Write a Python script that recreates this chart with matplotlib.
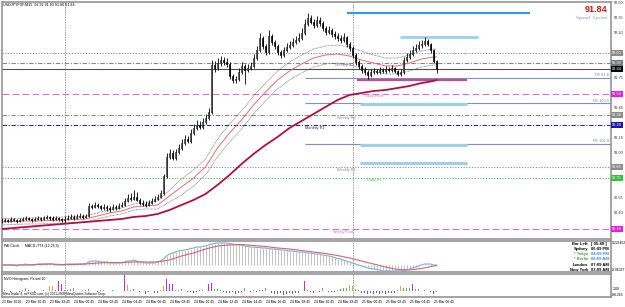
import matplotlib
matplotlib.use("Agg")
import matplotlib.pyplot as plt
import matplotlib.transforms as mtransforms

plt.rcParams['font.family'] = ['Liberation Sans', 'DejaVu Sans']

""" Data (USDJPY M15, bar 0 = 23 Mar 18:45) """
first_open = 90.31
closes = [90.32, 90.33, 90.32, 90.34, 90.33, 90.32, 90.33, 90.34, 90.35, 90.34,
          90.33, 90.34, 90.35, 90.34, 90.35, 90.36, 90.35, 90.34, 90.35, 90.34,
          90.33, 90.34, 90.35, 90.36, 90.35, 90.36, 90.37, 90.36, 90.37, 90.47,
          90.46, 90.48, 90.47, 90.45, 90.46, 90.45, 90.44, 90.46, 90.45, 90.47,
          90.48, 90.52, 90.55, 90.54, 90.56, 90.53, 90.50, 90.49, 90.48, 90.50,
          90.52, 90.54, 90.56, 90.60, 90.77, 90.96, 91.00, 90.95, 91.01, 91.05,
          91.10, 91.14, 91.12, 91.20, 91.25, 91.28, 91.26, 91.31, 91.35, 91.41,
          91.88, 91.85, 91.90, 91.93, 91.91, 91.89, 91.77, 91.73, 91.74, 91.81,
          91.87, 91.83, 91.85, 91.87, 91.95, 92.03, 92.15, 92.07, 92.01, 92.17,
          92.11, 92.07, 92.01, 91.98, 92.03, 92.06, 92.08, 92.11, 92.13, 92.15,
          92.20, 92.29, 92.35, 92.31, 92.28, 92.33, 92.30, 92.25, 92.21, 92.23,
          92.19, 92.17, 92.15, 92.13, 92.16, 92.09, 92.05, 91.98, 91.91, 91.87,
          91.83, 91.81, 91.78, 91.81, 91.82, 91.81, 91.83, 91.82, 91.84, 91.83,
          91.85, 91.82, 91.79, 91.81, 91.93, 91.96, 91.99, 92.03, 92.05, 92.08,
          92.09, 92.12, 92.09, 92.03, 91.92, 91.84]
highs = [90.35, 90.35, 90.34, 90.36, 90.35, 90.34, 90.35, 90.36, 90.37, 90.36,
         90.35, 90.36, 90.37, 90.36, 90.37, 90.38, 90.37, 90.37, 90.37, 90.36,
         90.35, 90.37, 90.38, 90.39, 90.38, 90.39, 90.40, 90.39, 90.39, 90.50,
         90.49, 90.51, 90.50, 90.48, 90.49, 90.48, 90.47, 90.49, 90.48, 90.50,
         90.51, 90.55, 90.59, 90.60, 90.63, 90.61, 90.55, 90.53, 90.52, 90.53,
         90.55, 90.57, 90.59, 90.63, 90.79, 91.00, 91.04, 91.03, 91.04, 91.09,
         91.14, 91.18, 91.17, 91.24, 91.29, 91.33, 91.32, 91.35, 91.39, 91.45,
         91.93, 91.92, 91.95, 91.97, 91.96, 91.95, 91.91, 91.79, 91.77, 91.85,
         91.91, 91.89, 91.89, 91.91, 91.99, 92.07, 92.20, 92.17, 92.09, 92.23,
         92.19, 92.13, 92.09, 92.03, 92.06, 92.10, 92.12, 92.15, 92.17, 92.20,
         92.25, 92.34, 92.40, 92.38, 92.34, 92.37, 92.36, 92.32, 92.27, 92.27,
         92.25, 92.22, 92.20, 92.18, 92.20, 92.17, 92.11, 92.07, 92.00, 91.93,
         91.89, 91.86, 91.83, 91.84, 91.85, 91.84, 91.86, 91.85, 91.87, 91.86,
         91.88, 91.86, 91.83, 91.84, 91.96, 92.00, 92.03, 92.07, 92.09, 92.12,
         92.13, 92.16, 92.14, 92.10, 92.04, 91.93]
lows = [90.30, 90.31, 90.31, 90.31, 90.32, 90.30, 90.31, 90.32, 90.33, 90.33,
        90.31, 90.32, 90.33, 90.32, 90.33, 90.34, 90.33, 90.32, 90.33, 90.32,
        90.31, 90.31, 90.33, 90.34, 90.33, 90.34, 90.35, 90.34, 90.35, 90.36,
        90.44, 90.45, 90.45, 90.43, 90.43, 90.42, 90.41, 90.43, 90.43, 90.44,
        90.46, 90.47, 90.51, 90.52, 90.53, 90.52, 90.48, 90.47, 90.46, 90.47,
        90.49, 90.51, 90.53, 90.55, 90.58, 90.75, 90.94, 90.93, 90.93, 90.99,
        91.03, 91.08, 91.10, 91.10, 91.18, 91.23, 91.24, 91.24, 91.29, 91.33,
        91.39, 91.81, 91.83, 91.87, 91.88, 91.86, 91.74, 91.70, 91.70, 91.72,
        91.79, 91.69, 91.81, 91.83, 91.85, 91.93, 92.01, 92.04, 91.98, 91.99,
        92.08, 92.04, 91.98, 91.95, 91.96, 92.01, 92.04, 92.06, 92.09, 92.11,
        92.13, 92.18, 92.27, 92.29, 92.25, 92.26, 92.27, 92.22, 92.18, 92.19,
        92.16, 92.14, 92.12, 92.10, 92.11, 92.06, 92.02, 91.95, 91.88, 91.84,
        91.80, 91.78, 91.74, 91.76, 91.79, 91.79, 91.79, 91.80, 91.80, 91.81,
        91.81, 91.80, 91.77, 91.77, 91.79, 91.91, 91.94, 91.97, 92.01, 92.03,
        92.05, 92.07, 92.07, 92.00, 91.90, 91.80]
opens = [first_open] + closes[:-1]
bars = list(range(len(closes)))

# moving averages, read once per hour (plus last bar)
ma_bars = list(range(0, 145, 4)) + [145]
ema_mid = [90.31, 90.315, 90.32, 90.32, 90.325, 90.33, 90.335, 90.34, 90.37, 90.40,
           90.42, 90.46, 90.47, 90.48, 90.57, 90.66, 90.75, 90.86, 91.05, 91.20,
           91.33, 91.48, 91.61, 91.73, 91.82, 91.89, 91.95, 91.98, 91.99, 91.97,
           91.93, 91.90, 91.87, 91.87, 91.90, 91.94, 91.96, 91.96]
ema_high = [90.34, 90.345, 90.35, 90.35, 90.355, 90.36, 90.365, 90.37, 90.40, 90.43,
            90.45, 90.49, 90.50, 90.52, 90.63, 90.74, 90.83, 90.94, 91.14, 91.29,
            91.42, 91.57, 91.70, 91.82, 91.91, 91.98, 92.04, 92.07, 92.08, 92.06,
            92.02, 91.98, 91.95, 91.95, 91.98, 92.02, 92.04, 92.04]
ema_low = [90.28, 90.285, 90.29, 90.29, 90.295, 90.30, 90.305, 90.31, 90.34, 90.37,
           90.39, 90.43, 90.44, 90.44, 90.51, 90.58, 90.67, 90.78, 90.96, 91.11,
           91.24, 91.39, 91.52, 91.64, 91.73, 91.80, 91.86, 91.89, 91.90, 91.88,
           91.85, 91.82, 91.79, 91.79, 91.82, 91.86, 91.88, 91.88]
sma_slow = [90.24, 90.25, 90.26, 90.27, 90.28, 90.29, 90.30, 90.31, 90.32, 90.33,
            90.34, 90.36, 90.37, 90.39, 90.43, 90.48, 90.53, 90.59, 90.68, 90.78,
            90.89, 90.99, 91.08, 91.16, 91.25, 91.32, 91.39, 91.46, 91.53, 91.58,
            91.60, 91.62, 91.63, 91.65, 91.67, 91.70, 91.72, 91.73]

# pivot levels
pivot_levels = [92.00, 91.90, 91.59, 91.38, 91.28, 90.86, 90.75, 90.24]
pivot_labels = ["", "Weekly R3", "Daily Pivot", "Weekly R2", "Monthly R1",
                "Weekly R1", "Daily R1", "WeeklyPivot"]
fe_levels = [91.75, 91.50, 91.09]
fe_labels = ["FE 61.8", "FE 100.0", "FE 161.8"]
zone_levels = [92.40, 92.16, 91.73, 91.49, 91.08, 90.90]
bid = 91.84

price_ticks = [92.50, 92.35, 92.20, 92.05, 91.90, 91.75, 91.60, 91.45,
               91.30, 91.15, 91.00, 90.85, 90.70, 90.55, 90.40, 90.25]

# MACD
macd_main = [0.00, 0.00, 0.00, 0.00, 0.00, -0.01, 0.00, 0.00, 0.01, 0.00,
             0.00, 0.00, 0.01, 0.01, 0.01, 0.01, 0.01, 0.01, 0.00, 0.00,
             0.00, 0.00, 0.01, 0.01, 0.01, 0.01, 0.01, 0.01, 0.01, 0.03,
             0.04, 0.04, 0.04, 0.03, 0.03, 0.03, 0.02, 0.02, 0.02, 0.02,
             0.02, 0.03, 0.04, 0.04, 0.05, 0.04, 0.03, 0.03, 0.02, 0.02,
             0.02, 0.02, 0.03, 0.04, 0.06, 0.09, 0.11, 0.12, 0.13, 0.14,
             0.145, 0.15, 0.155, 0.165, 0.17, 0.18, 0.18, 0.185, 0.19, 0.20,
             0.21, 0.215, 0.22, 0.22, 0.22, 0.22, 0.215, 0.21, 0.205, 0.20,
             0.20, 0.19, 0.185, 0.18, 0.18, 0.175, 0.175, 0.17, 0.17, 0.165,
             0.16, 0.16, 0.155, 0.15, 0.15, 0.145, 0.14, 0.14, 0.135, 0.13,
             0.13, 0.125, 0.12, 0.12, 0.115, 0.11, 0.11, 0.10, 0.095, 0.09,
             0.085, 0.075, 0.065, 0.06, 0.05, 0.04, 0.03, 0.02, 0.01, 0.00,
             -0.01, -0.02, -0.03, -0.035, -0.04, -0.045, -0.05, -0.06, -0.06, -0.06,
             -0.06, -0.06, -0.06, -0.06, -0.055, -0.05, -0.04, -0.03, -0.02, -0.01,
             0.00, 0.01, 0.01, 0.01, 0.00, 0.00]
macd_signal = [0.00, 0.00, 0.00, 0.005, 0.01, 0.005, 0.005, 0.01, 0.02, 0.025,
               0.025, 0.03, 0.03, 0.03, 0.05, 0.09, 0.12, 0.16, 0.19, 0.20,
               0.205, 0.195, 0.185, 0.17, 0.16, 0.145, 0.13, 0.115, 0.095, 0.07,
               0.04, 0.01, -0.02, -0.045, -0.05, -0.035, -0.01, -0.005]

# NVO histogram
nvo = [30, 15, 9, -15, 12, 6, -12, 18, 51, 15,
       9, -9, 12, 6, 15, 9, 90, 90, 15, 171,
       135, 24, 15, 36, 51, 12, 9, 18, 15, 45,
       9, 12, -9, 15, 18, 9, 6, 15, 9, 12,
       12, 291, 105, 18, 36, 9, -15, 6, -51, -15,
       9, -24, -33, 15, 90, 210, 129, 126, 15, 24,
       36, 9, -18, -15, -24, -12, 18, 24, 12, 135,
       144, 36, 45, 24, -15, -30, -36, -18, -42, -24,
       -15, 51, 12, -18, 15, -15, 24, 15, 66, 12,
       -36, -45, -54, -36, -60, -45, -30, -54, -36, -24,
       12, 186, 15, -15, -24, 9, -18, 66, 12, -12,
       -18, -15, 30, 42, 54, 66, 102, 90, 36, 18,
       -30, -36, -45, -30, -42, -36, -48, -36, -42, -30,
       -36, -24, 15, 90, 66, 66, 54, 126, 48, 36,
       12, 24, 9, -18, -45, -15]

day_starts = [21, 117]
time_labels = ["23 Mar 2010", "23 Mar 20:45", "23 Mar 22:45", "24 Mar 00:45",
               "24 Mar 02:45", "24 Mar 04:45", "24 Mar 06:45", "24 Mar 08:45",
               "24 Mar 10:45", "24 Mar 12:45", "24 Mar 14:45", "24 Mar 16:45",
               "24 Mar 18:45", "24 Mar 20:45", "24 Mar 22:45", "25 Mar 00:45",
               "25 Mar 02:45", "25 Mar 04:45", "25 Mar 06:45"]
clock_rows = [("Bar Left", "[ 05:40 ]"), ("Sydney", "06:09 PM"),
              ("* Tokyo", "04:09 PM"), ("* Berlin", "08:09 AM"),
              ("London", "07:09 AM"), ("New York", "03:09 AM")]

""" Layout """
W, H = 625, 307


def frame(top, bottom):
    return [2 / W, 1 - bottom / H, 609 / W, (bottom - top) / H]


def px(x):
    # pixel column -> bar coordinate
    return (x - 1.5) / 3


fig = plt.figure(figsize=(6.25, 3.07), dpi=100, facecolor="white")
ax = fig.add_axes(frame(2, 239))
ax_macd = fig.add_axes(frame(241, 272))
ax_nvo = fig.add_axes(frame(274, 297))

for a in (ax, ax_macd, ax_nvo):
    a.set_xlim(1 / 6, 1 / 6 + 609 / 3)
    a.set_xticks([])
    a.set_yticks([])
    a.set_facecolor("white")
    for s in a.spines.values():
        s.set_color("#8c8c8c")
        s.set_linewidth(1.1)
    for d in day_starts:
        a.axvline(d, color="#707070", lw=0.6, ls=(0, (1, 1)), zorder=1)

ax.set_ylim(90.14, 92.51)
ax_macd.set_ylim(-0.07, 0.24)
ax_nvo.set_ylim(-98.26, 299.81)

""" Main chart """
grey = "#8c8c8c"
pivot_colors = [grey, "#808890", "#d670d6", grey, "#2a2a90", grey, "#55c055", "#d670d6"]
pivot_styles = [(0, (1, 1.5)), (0, (4, 1.5, 1, 1.5)), (0, (6, 3)), (0, (4, 1.5, 1, 1.5)),
                (0, (4, 1.5, 1, 1.5)), (0, (1, 1.5)), (0, (1, 1.5)), (0, (6, 3))]
pivot_label_x = [0, 335, 365, 337, 305, 337, 367, 333]
box_colors = ["#8c8c8c", "#707880", "#e020e0", "#8c8c8c", "#1818a8", "#8c8c8c", "#35c035", "#e020e0"]

for lvl, lab, c, ls, lx in zip(pivot_levels, pivot_labels, pivot_colors, pivot_styles, pivot_label_x):
    ax.axhline(lvl, color=c, lw=0.8, ls=ls, zorder=1)
    if lab:
        ax.text(px(lx), lvl - 0.005, lab, fontsize=2.8, color=c, va="top", ha="left", zorder=2)

for lvl, lab in zip(fe_levels, fe_labels):
    ax.hlines(lvl, px(305), px(611), color="#8090b8", lw=0.8, zorder=1)
    ax.text(px(609), lvl + 0.005, lab, fontsize=2.8, color="#7080b0", ha="right", va="bottom")

zone_spans = [(347, 530), (400, 478), (357, 467), (360, 467), (360, 467), (360, 467)]
zone_colors = ["#3a9ad9", "#9fd0ea", "#c24d92", "#9fd0ea", "#9fd0ea", "#9fd0ea"]
zone_widths = [1.6, 2.0, 1.6, 2.2, 2.2, 2.2]
for lvl, (x1, x2), c, w in zip(zone_levels, zone_spans, zone_colors, zone_widths):
    ax.hlines(lvl, px(x1), px(x2), color=c, lw=w, zorder=2)

ax.axhline(bid, color="#505050", lw=0.8, zorder=1)

ax.plot(ma_bars, sma_slow, color="#b01040", lw=1.3, zorder=3)
ax.plot(ma_bars, ema_mid, color="#e07070", lw=0.7, zorder=3)
ax.plot(ma_bars, ema_high, color="#505050", lw=0.5, ls=(0, (1, 1)), zorder=3)
ax.plot(ma_bars, ema_low, color="#505050", lw=0.5, ls=(0, (1, 1)), zorder=3)

# candles
ax.vlines(bars, lows, highs, color="black", lw=0.6, zorder=4)
for b, o, c in zip(bars, opens, closes):
    lo, hi = min(o, c), max(o, c)
    face = "white" if c >= o else "black"
    ax.bar(b, max(hi - lo, 0.004), bottom=lo, width=0.62, color=face,
           edgecolor="black", linewidth=0.45, zorder=5)

# right price scale (labels hidden where a level box sits, as in MT4)
trans = mtransforms.blended_transform_factory(ax.transAxes, ax.transData)
boxed = pivot_levels + [bid]
for p in price_ticks:
    if min(abs(p - q) for q in boxed) < 0.06:
        continue
    ax.text(1.004, p, f"{p:.2f}", transform=trans, fontsize=2.8, color="#303030",
            va="center", ha="left", clip_on=False)
for lvl, c in zip(boxed, box_colors + ["black"]):
    ax.text(1.002, lvl, f"{lvl:.2f}", transform=trans, fontsize=2.8, color="white",
            va="center", ha="left", clip_on=False, zorder=10,
            bbox=dict(boxstyle="square,pad=0.25", fc=c, ec="none"))

ax.text(0.002, 0.996, "USDJPYFXF,M15  91.92 91.93 91.80 91.84", transform=ax.transAxes,
        fontsize=2.7, va="top", ha="left", color="black")
ax.text(px(607), 92.44, "91.84", fontsize=6.5, fontweight="bold", color="#d01818",
        ha="right", va="center")
ax.text(px(607), 92.355, "Spread: 3 points", fontsize=3.2, color="#7f9fc0",
        ha="right", va="center")

""" MACD panel """
ax_macd.vlines(bars, 0, macd_main, color="#b0b0b0", lw=0.55, zorder=2)
ax_macd.plot(bars, macd_main, color="#78b0e0", lw=0.8, zorder=3)
ax_macd.plot(ma_bars, macd_signal, color="#d06868", lw=0.8, zorder=3)
ax_macd.text(0.004, 0.9, "PAI Clock", transform=ax_macd.transAxes, fontsize=2.5, va="top")
ax_macd.text(0.037, 0.9, "MACD+TT4 (12,26,9)", transform=ax_macd.transAxes, fontsize=2.5, va="top")
trans_m = mtransforms.blended_transform_factory(ax_macd.transAxes, ax_macd.transData)
ax_macd.text(1.002, 0.222, "0.226452", transform=trans_m, fontsize=2.4, va="center", clip_on=False)
ax_macd.text(1.002, -0.052, "-0.06327", transform=trans_m, fontsize=2.4, va="center", clip_on=False)

clock_colors = [("black", "black"), ("black", "black"), ("#40a040", "#3c8ce0"),
                ("#40a040", "#3c8ce0"), ("black", "black"), ("black", "black")]
trans_c = mtransforms.blended_transform_factory(ax_macd.transData, ax_macd.transAxes)
for k, ((name, t), (c1, c2)) in enumerate(zip(clock_rows, clock_colors)):
    yy = 0.9 - k * 0.165
    ax_macd.text(px(588), yy, name, transform=trans_c, fontsize=3.0, fontweight="bold",
                 color=c1, ha="right", va="center")
    ax_macd.text(px(591), yy, t, transform=trans_c, fontsize=3.0, fontweight="bold",
                 color=c2, ha="left", va="center")

""" NVO panel """
nvo_colors = []
for v in nvo:
    if v < 0:
        nvo_colors.append("#6a5cc8")
    elif v >= 120:
        nvo_colors.append("#c030c8")
    elif v >= 80:
        nvo_colors.append("#f0a040")
    else:
        nvo_colors.append("#50c050")
ax_nvo.bar(bars, nvo, width=0.6, color=nvo_colors, zorder=2)
ax_nvo.text(0.004, 0.88, "NVO Histogram, Period 10", transform=ax_nvo.transAxes,
            fontsize=2.5, va="top")
ax_nvo.text(0.002, 0.03, "MetaTrader 4, at FXDD.com, (c) 2001-2009 MetaQuotes Software Corp.",
            transform=ax_nvo.transAxes, fontsize=2.3, va="bottom")
trans_n = mtransforms.blended_transform_factory(ax_nvo.transAxes, ax_nvo.transData)
ax_nvo.text(1.003, 40, "1.00", transform=trans_n, fontsize=2.6, va="center", clip_on=False)
ax_nvo.text(1.002, -70, "-98.263", transform=trans_n, fontsize=2.4, va="center", clip_on=False)

trans_t = mtransforms.blended_transform_factory(ax_nvo.transData, ax_nvo.transAxes)
for k, lab in enumerate(time_labels):
    ax_nvo.text(k * 8 + 0.3, -0.22, lab, transform=trans_t, fontsize=2.4,
                ha="left", va="center", clip_on=False)

fig.savefig("out.png", dpi=100, facecolor="white")
